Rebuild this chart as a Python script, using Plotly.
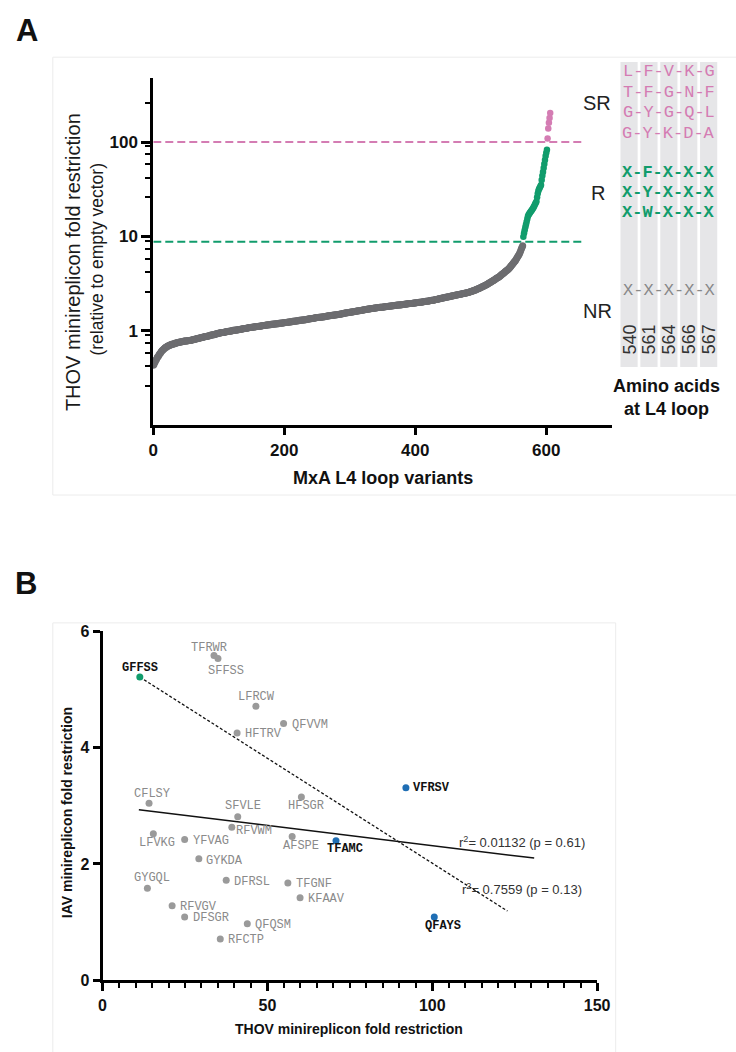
import plotly.graph_objects as go

W, H = 736, 1052

# ---------------- Panel A data (sorted fold restriction per MxA L4 loop variant) ----------------
gray_vals = [
    0.43,0.44,0.46,0.47,0.49,0.50,0.52,0.53,0.54,0.56,0.57,0.58,0.60,0.61,0.62,0.63,0.64,0.65,0.66,0.67,0.67,0.68,0.69,0.69,0.70,
    0.70,0.71,0.71,0.72,0.72,0.72,0.73,0.73,0.73,0.74,0.74,0.74,0.75,0.75,0.75,0.76,0.76,0.76,0.76,0.77,0.77,0.77,0.78,0.78,0.78,
    0.78,0.78,0.78,0.79,0.79,0.79,0.79,0.79,0.80,0.80,0.80,0.81,0.81,0.81,0.82,0.82,0.82,0.83,0.83,0.83,0.84,0.84,0.84,0.85,0.85,
    0.85,0.86,0.86,0.86,0.87,0.87,0.87,0.87,0.88,0.88,0.88,0.89,0.89,0.90,0.90,0.90,0.91,0.91,0.91,0.92,0.92,0.93,0.93,0.93,0.94,
    0.94,0.94,0.95,0.95,0.95,0.96,0.96,0.96,0.96,0.97,0.97,0.97,0.98,0.98,0.98,0.99,0.99,0.99,0.99,1.00,1.00,1.00,1.01,1.01,1.01,
    1.01,1.02,1.02,1.02,1.02,1.03,1.03,1.03,1.04,1.04,1.04,1.05,1.05,1.05,1.06,1.06,1.06,1.06,1.07,1.07,1.07,1.08,1.08,1.08,1.08,
    1.09,1.09,1.09,1.09,1.10,1.10,1.10,1.10,1.11,1.11,1.11,1.12,1.12,1.12,1.12,1.13,1.13,1.13,1.14,1.14,1.14,1.14,1.15,1.15,1.15,
    1.15,1.16,1.16,1.16,1.16,1.17,1.17,1.17,1.17,1.18,1.18,1.18,1.18,1.19,1.19,1.19,1.19,1.20,1.20,1.20,1.20,1.21,1.21,1.21,1.21,
    1.22,1.22,1.22,1.22,1.23,1.23,1.23,1.24,1.24,1.24,1.25,1.25,1.25,1.26,1.26,1.26,1.26,1.27,1.27,1.27,1.28,1.28,1.28,1.29,1.29,
    1.29,1.29,1.30,1.30,1.30,1.30,1.31,1.31,1.31,1.32,1.32,1.33,1.33,1.33,1.34,1.34,1.34,1.35,1.35,1.36,1.36,1.36,1.37,1.37,1.37,
    1.38,1.38,1.38,1.39,1.39,1.39,1.39,1.40,1.40,1.40,1.41,1.41,1.41,1.42,1.42,1.43,1.43,1.43,1.44,1.44,1.44,1.45,1.45,1.46,1.46,
    1.46,1.47,1.47,1.47,1.48,1.48,1.48,1.49,1.49,1.50,1.50,1.51,1.51,1.51,1.52,1.52,1.53,1.53,1.54,1.54,1.55,1.55,1.55,1.56,1.56,
    1.57,1.57,1.58,1.58,1.58,1.59,1.59,1.60,1.60,1.61,1.61,1.62,1.62,1.63,1.63,1.63,1.64,1.64,1.65,1.65,1.66,1.66,1.67,1.67,1.68,
    1.68,1.69,1.69,1.70,1.70,1.70,1.71,1.71,1.72,1.72,1.72,1.73,1.73,1.74,1.74,1.74,1.75,1.75,1.76,1.76,1.76,1.77,1.77,1.78,1.78,
    1.78,1.79,1.79,1.80,1.80,1.80,1.81,1.81,1.81,1.82,1.82,1.82,1.83,1.83,1.83,1.84,1.84,1.84,1.85,1.85,1.86,1.86,1.86,1.87,1.87,
    1.87,1.88,1.88,1.89,1.89,1.89,1.90,1.90,1.91,1.91,1.91,1.92,1.92,1.93,1.93,1.93,1.94,1.94,1.95,1.95,1.95,1.96,1.96,1.97,1.97,
    1.97,1.98,1.98,1.99,1.99,1.99,2.00,2.00,2.01,2.01,2.02,2.02,2.03,2.03,2.04,2.04,2.05,2.05,2.06,2.06,2.07,2.07,2.08,2.09,2.09,
    2.10,2.10,2.11,2.11,2.12,2.13,2.14,2.14,2.15,2.16,2.17,2.18,2.18,2.19,2.20,2.21,2.22,2.22,2.23,2.24,2.25,2.26,2.26,2.27,2.28,
    2.29,2.30,2.30,2.31,2.32,2.33,2.34,2.34,2.35,2.36,2.37,2.38,2.39,2.39,2.40,2.41,2.42,2.43,2.44,2.44,2.45,2.46,2.47,2.48,2.49,
    2.50,2.50,2.51,2.52,2.53,2.54,2.55,2.56,2.58,2.59,2.60,2.62,2.63,2.65,2.66,2.68,2.69,2.71,2.73,2.75,2.77,2.79,2.81,2.83,2.86,
    2.88,2.90,2.92,2.94,2.96,2.99,3.01,3.04,3.06,3.09,3.12,3.15,3.18,3.21,3.24,3.27,3.30,3.34,3.37,3.41,3.44,3.48,3.52,3.56,3.60,
    3.63,3.67,3.70,3.74,3.79,3.84,3.89,3.94,3.99,4.04,4.10,4.15,4.21,4.26,4.32,4.38,4.44,4.50,4.56,4.65,4.74,4.84,4.94,5.04,5.14,
    5.25,5.36,5.46,5.57,5.72,5.88,6.04,6.20,6.37,6.54,6.80,7.08,7.38,7.68,7.98,
]
green_vals = [9.9,10.8,11.6,12.5,13.4,14.3,15.3,16.3,17.0,17.4,17.8,18.2,18.6,19.0,19.5,20.0,20.6,21.3,22.0,22.7,
              23.5,26.0,28.5,30.5,31.7,32.8,33.9,35.0,39.5,44.0,48.0,53.0,58.5,64.5,71.0,77.0,83.0]
pink_vals = [109, 139, 160, 180, 203]

sr_threshold = 100
r_threshold = 8.8
threshold_span = [0, 656]

xticks_A = [0, 200, 400, 600]
yticks_A = [1, 10, 100]
yticks_A_text = ["1", "10", "100"]
yminor_A = [0.26, 0.42, 0.58, 0.74, 0.9, 2.6, 4.2, 5.8, 7.4, 9, 26, 42, 58, 74, 90, 260]

sr_motifs = ["L-F-V-K-G", "T-F-G-N-F", "G-Y-G-Q-L", "G-Y-K-D-A"]
r_motifs = ["X-F-X-X-X", "X-Y-X-X-X", "X-W-X-X-X"]
nr_motifs = ["X-X-X-X-X"]
aa_positions = ["540", "561", "564", "566", "567"]
class_labels = ["SR", "R", "NR"]

# ---------------- Panel B data ----------------
variant_names = ["GFFSS", "TFRWR", "SFFSS", "LFRCW", "QFVVM", "HFTRV", "CFLSY", "HFSGR", "SFVLE",
                 "RFVWM", "LFVKG", "YFVAG", "AFSPE", "TFAMC", "GYKDA", "GYGQL", "DFRSL", "TFGNF",
                 "KFAAV", "RFVGV", "DFSGR", "QFQSM", "RFCTP", "VFRSV", "QFAYS"]
thov_fold = [11.3, 33.8, 35.0, 46.5, 54.9, 40.8, 14.1, 60.3, 41.0,
             39.2, 15.4, 24.9, 57.5, 70.8, 29.2, 13.6, 37.5, 56.2,
             59.9, 21.1, 24.9, 43.9, 35.7, 92.0, 100.6]
iav_fold = [5.21, 5.58, 5.53, 4.71, 4.41, 4.25, 3.04, 3.15, 2.81,
            2.63, 2.52, 2.42, 2.47, 2.40, 2.09, 1.58, 1.72, 1.67,
            1.42, 1.28, 1.09, 0.97, 0.71, 3.31, 1.09]
variant_group = ["green", "grey", "grey", "grey", "grey", "grey", "grey", "grey", "grey",
                 "grey", "grey", "grey", "grey", "blue", "grey", "grey", "grey", "grey",
                 "grey", "grey", "grey", "grey", "grey", "blue", "blue"]

fit_all_x = [11.0, 130.9]
fit_all_y = [2.93, 2.10]
fit_sel_x = [11.3, 122.8]
fit_sel_y = [5.21, 1.19]
fit_all_text = "r<sup>2</sup>= 0.01132 (p = 0.61)"
fit_sel_text = "r<sup>2</sup>= 0.7559 (p = 0.13)"

xticks_B = [0, 50, 100, 150]
yticks_B = [0, 2, 4, 6]

# ---------------- styling ----------------
SANS = "Liberation Sans, Arial, sans-serif"
MONO = "Liberation Mono, Courier New, monospace"
GRAY_A = "#6d6d70"
GREEN = "#119c6c"
PINK = "#d47cb3"
BLUE = "#1f6eb4"
GRAY_B = "#9a9a9a"


def px(x):
    return x / W


def py(y):
    return 1 - y / H


# label offsets for panel B (pixels: dx right, dy down)
label_offset = {
    "GFFSS": (0, -9), "TFRWR": (-5, -8), "SFFSS": (8, 13), "LFRCW": (1, -9), "QFVVM": (26, 1),
    "HFTRV": (26, 1.5), "CFLSY": (3, -9), "HFSGR": (5, 9.5), "SFVLE": (5, -10.5), "RFVWM": (22, 3.5),
    "LFVKG": (4, 9), "YFVAG": (26, 2), "AFSPE": (9, 9.5), "TFAMC": (9, 8), "GYKDA": (26, 2),
    "GYGQL": (5, -10), "DFRSL": (26, 2), "TFGNF": (26, 1), "KFAAV": (26, 1), "RFVGV": (26, 1),
    "DFSGR": (26, 1), "QFQSM": (26, 1.5), "RFCTP": (26, 1.5), "VFRSV": (26, 0.5), "QFAYS": (9, 9),
}
group_color = {"grey": GRAY_B, "blue": BLUE, "green": GREEN}

fig = go.Figure()

# ---- Panel A traces ----
n_g = len(gray_vals)
n_r = len(green_vals)
rank_gray = list(range(n_g))
rank_green = list(range(n_g, n_g + n_r))
rank_pink = list(range(n_g + n_r, n_g + n_r + len(pink_vals)))

fig.add_trace(go.Scatter(x=threshold_span, y=[sr_threshold] * 2, mode="lines",
                         line=dict(color=PINK, width=2, dash="8px,4px"), xaxis="x", yaxis="y",
                         hoverinfo="skip"))
fig.add_trace(go.Scatter(x=threshold_span, y=[r_threshold] * 2, mode="lines",
                         line=dict(color=GREEN, width=2, dash="8px,4px"), xaxis="x", yaxis="y",
                         hoverinfo="skip"))
fig.add_trace(go.Scatter(x=rank_gray, y=gray_vals, mode="markers", cliponaxis=False,
                         marker=dict(color=GRAY_A, size=7), xaxis="x", yaxis="y"))
fig.add_trace(go.Scatter(x=rank_green, y=green_vals, mode="markers", cliponaxis=False,
                         marker=dict(color=GREEN, size=6.5), xaxis="x", yaxis="y"))
fig.add_trace(go.Scatter(x=rank_pink, y=pink_vals, mode="markers", cliponaxis=False,
                         marker=dict(color=PINK, size=6.5), xaxis="x", yaxis="y"))

# ---- Panel B traces ----
fig.add_trace(go.Scatter(x=fit_all_x, y=fit_all_y, mode="lines", line=dict(color="#111", width=1.5),
                         xaxis="x2", yaxis="y2", hoverinfo="skip"))
fig.add_trace(go.Scatter(x=fit_sel_x, y=fit_sel_y, mode="lines",
                         line=dict(color="#111", width=1.3, dash="3px,2px"),
                         xaxis="x2", yaxis="y2", hoverinfo="skip"))
for grp in ["grey", "blue", "green"]:
    xs = [x for x, g in zip(thov_fold, variant_group) if g == grp]
    ys = [y for y, g in zip(iav_fold, variant_group) if g == grp]
    fig.add_trace(go.Scatter(x=xs, y=ys, mode="markers", cliponaxis=False,
                             marker=dict(color=group_color[grp], size=7),
                             xaxis="x2", yaxis="y2"))

annotations = []


def ann(text, x, y, size, color="#111", bold=False, family=SANS, angle=0, **kw):
    d = dict(text=text, x=x, y=y, xref="paper", yref="paper", showarrow=False,
             xanchor="center", yanchor="middle", textangle=angle,
             font=dict(family=family, size=size, color=color, weight="bold" if bold else "normal"))
    d.update(kw)
    annotations.append(d)


# panel letters
ann("A", px(23), py(23), 31, bold=True)
ann("B", px(22), py(585), 31, bold=True)

# panel A axis titles
ann("THOV minireplicon fold restriction", px(70), py(258), 20, color="#1a1a1a", angle=-90)
ann("(relative to empty vector)", px(94), py(255), 17.5, color="#1a1a1a", angle=-90)
ann("MxA L4 loop variants", px(387), py(478), 18, bold=True)

# class labels
for lab, (lx, ly) in zip(class_labels, [(607, 97), (608, 188), (607, 308)]):
    ann(lab, px(lx), py(ly), 20, color="#222")

# amino-acid table
col_centers = [639.7, 660.1, 680.5, 700.9, 721.3]
shapes = []
for c in col_centers:
    shapes.append(dict(type="rect", xref="paper", yref="paper", x0=px(c - 8.8), x1=px(c + 8.8),
                       y0=py(365), y1=py(55), fillcolor="#e6e6e8", line=dict(width=0), layer="below"))
for i, m in enumerate(sr_motifs):
    ann(m, px(680.5), py(65 + 20.8 * i), 17, color=PINK, family=MONO)
for i, m in enumerate(r_motifs):
    ann(m, px(680.5), py(166.7 + 20.8 * i), 17, color=GREEN, family=MONO, bold=True)
for i, m in enumerate(nr_motifs):
    ann(m, px(680.5), py(286.7 + 20.8 * i), 17, color="#888888", family=MONO)
for c, p in zip(col_centers, aa_positions):
    ann(p, px(c), py(337), 18, color="#333", angle=-90)
ann("Amino acids<br>at L4 loop", px(678), py(396), 18, bold=True)

# panel B axis titles
ann("IAV minireplicon fold restriction", px(63), py(818), 14, bold=True, angle=-90)
ann("THOV minireplicon fold restriction", px(353), py(1038), 14, bold=True)

# panel B point labels
for name, xv, yv, g in zip(variant_names, thov_fold, iav_fold, variant_group):
    dx, dy = label_offset[name]
    hl = g != "grey"
    annotations.append(dict(text=name, x=xv, y=yv, xref="x2", yref="y2", showarrow=False,
                            xanchor="center", yanchor="middle", xshift=dx, yshift=-dy,
                            font=dict(family=MONO, size=12, color="#111" if hl else "#8a8a8a",
                                      weight="bold" if hl else "normal")))
ann(fit_all_text, px(530), py(848), 13, color="#333")
ann(fit_sel_text, px(530), py(895), 13, color="#333")

# panel boxes
shapes.append(dict(type="rect", xref="paper", yref="paper", x0=px(49), x1=px(760), y0=py(495), y1=py(50),
                   line=dict(color="#ececec", width=1), fillcolor="rgba(0,0,0,0)", layer="below"))
shapes.append(dict(type="rect", xref="paper", yref="paper", x0=px(49), x1=px(626), y0=py(1080), y1=py(625),
                   line=dict(color="#ececec", width=1), fillcolor="rgba(0,0,0,0)", layer="below"))

axis_common = dict(showgrid=False, zeroline=False, showline=True, linecolor="black", linewidth=3,
                   ticks="outside", tickcolor="black", tickwidth=2.5)
tickfont_A = dict(family=SANS, size=17, color="#111", weight="bold")
tickfont_B = dict(family=SANS, size=16, color="#111", weight="bold")

fig.update_layout(
    width=W, height=H, margin=dict(l=0, r=0, t=0, b=0),
    paper_bgcolor="white", plot_bgcolor="rgba(0,0,0,0)", showlegend=False,
    xaxis=dict(domain=[px(152), px(622)], range=[0, 700], anchor="y", tickmode="array",
               tickvals=xticks_A, ticklen=7, tickfont=tickfont_A, **axis_common),
    yaxis=dict(domain=[py(424), py(71)], type="log", range=[-1, 2.68], anchor="x", tickmode="array",
               tickvals=yticks_A, ticktext=yticks_A_text, ticklen=9, tickfont=tickfont_A,
               minor=dict(tickmode="array", tickvals=yminor_A, ticklen=5, tickwidth=2,
                          ticks="outside", tickcolor="black"),
               **axis_common),
    xaxis2=dict(domain=[px(100), px(607)], range=[0, 150], anchor="y2", tickmode="array",
                tickvals=xticks_B, ticklen=8, tickfont=tickfont_B,
                minor=dict(dtick=5, tick0=0, ticklen=5, tickwidth=2, ticks="outside", tickcolor="black"),
                **axis_common),
    yaxis2=dict(domain=[py(988.3), py(633.3)], range=[0, 6], anchor="x2", tickmode="array",
                tickvals=yticks_B, ticklen=7, tickfont=tickfont_B, **axis_common),
    annotations=annotations,
    shapes=shapes,
)

fig.write_html("out.html")
